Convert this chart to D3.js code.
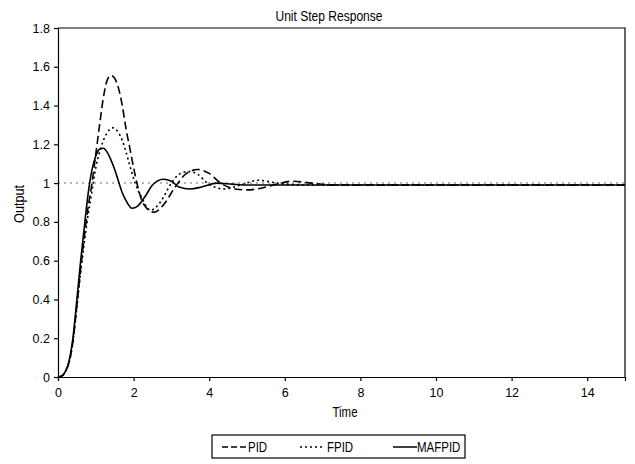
<!DOCTYPE html>
<html>
<head>
<meta charset="utf-8">
<script src="https://cdn.jsdelivr.net/npm/d3@7"></script>
<style>
  body { margin: 0; background: #fff; }
  svg { display: block; font-family: "Liberation Sans", Arial, sans-serif; }
</style>
</head>
<body>
<div id="chart"></div>
<script>
const seriesNames = ["PID", "FPID", "MAFPID"];

const pidTime = [0, 0.1, 0.2, 0.3, 0.4, 0.5, 0.6, 0.7, 0.8, 0.9, 1.0, 1.1, 1.2, 1.3, 1.4, 1.5, 1.6, 1.7, 1.8, 1.9, 2.0, 2.1, 2.2, 2.35, 2.55, 2.8, 3.1, 3.4, 3.7, 4.0, 4.3, 4.7, 5.0, 5.4, 5.8, 6.2, 6.7, 7.3, 15];
const pidOutput = [0, 0.005, 0.03, 0.08, 0.19, 0.37, 0.56, 0.73, 0.88, 1.0, 1.15, 1.3, 1.44, 1.53, 1.555, 1.54, 1.49, 1.4, 1.28, 1.18, 1.08, 0.99, 0.92, 0.87, 0.85, 0.89, 0.98, 1.05, 1.07, 1.05, 1.0, 0.97, 0.965, 0.975, 0.995, 1.01, 1.0, 0.99, 0.99];

const fpidTime = [0, 0.1, 0.2, 0.3, 0.4, 0.5, 0.6, 0.7, 0.8, 0.9, 1.0, 1.1, 1.2, 1.3, 1.45, 1.6, 1.7, 1.8, 1.9, 2.04, 2.2, 2.45, 2.7, 3.0, 3.2, 3.45, 3.7, 3.95, 4.4, 4.9, 5.3, 5.8, 6.5, 15];
const fpidOutput = [0, 0.005, 0.03, 0.08, 0.19, 0.36, 0.54, 0.7, 0.84, 0.96, 1.08, 1.16, 1.22, 1.26, 1.285, 1.26, 1.22, 1.16, 1.09, 1.0, 0.93, 0.86, 0.9, 1.0, 1.045, 1.06, 1.045, 1.0, 0.97, 0.995, 1.015, 1.0, 0.99, 0.99];

const mafTime = [0, 0.1, 0.2, 0.3, 0.4, 0.5, 0.6, 0.7, 0.8, 0.9, 1.0, 1.1, 1.2, 1.3, 1.4, 1.5, 1.6, 1.7, 1.8, 1.96, 2.1, 2.3, 2.5, 2.78, 3.0, 3.2, 3.5, 3.8, 4.2, 4.6, 5.0, 6.0, 15];
const mafOutput = [0, 0.005, 0.03, 0.09, 0.21, 0.4, 0.6, 0.78, 0.95, 1.07, 1.14, 1.175, 1.18, 1.16, 1.12, 1.07, 1.01, 0.95, 0.91, 0.87, 0.88, 0.93, 0.99, 1.02, 1.01, 0.98, 0.97, 0.98, 1.0, 0.995, 0.99, 0.99, 0.99];

const xTicks = [0, 2, 4, 6, 8, 10, 12, 14];
const yTicks = [0, 0.2, 0.4, 0.6, 0.8, 1, 1.2, 1.4, 1.6, 1.8];
const setpoint = 1;

const series = [
  { name: seriesNames[0], t: pidTime, v: pidOutput, dash: "8,4" },
  { name: seriesNames[1], t: fpidTime, v: fpidOutput, dash: "2,3" },
  { name: seriesNames[2], t: mafTime, v: mafOutput, dash: null }
].map(s => ({ ...s, points: s.t.map((t, i) => ({ t, v: s.v[i] })) }));

const W = 635, H = 464;
const plotLeft = 58, plotRight = 625, plotTop = 28, plotBottom = 377;

const x = d3.scaleLinear().domain([0, 15]).range([plotLeft, plotRight]);
const y = d3.scaleLinear().domain([0, 1.8]).range([plotBottom, plotTop]);

// the original uses a narrow face, squeeze the text horizontally
function squeeze(sel, k) {
  sel.each(function () {
    const len = this.getComputedTextLength();
    d3.select(this).attr("textLength", len * k).attr("lengthAdjust", "spacingAndGlyphs");
  });
}

const svg = d3.select("#chart").append("svg")
  .attr("width", W)
  .attr("height", H);

// frame: top and right
svg.append("path")
  .attr("d", `M${plotLeft},${plotTop}H${plotRight}V${plotBottom}`)
  .attr("fill", "none")
  .attr("stroke", "#000")
  .attr("stroke-width", 1.2);

// setpoint reference
svg.append("line")
  .attr("x1", x(0)).attr("x2", x(15))
  .attr("y1", y(setpoint)).attr("y2", y(setpoint))
  .attr("stroke", "#999")
  .attr("stroke-width", 1.5)
  .attr("stroke-dasharray", "2,4");

const yAxis = d3.axisLeft(y)
  .tickValues(yTicks)
  .tickSize(4)
  .tickPadding(4)
  .tickFormat(d => d3.format("~g")(d));

const xAxis = d3.axisBottom(x)
  .tickValues(xTicks)
  .tickSize(4)
  .tickPadding(7)
  .tickFormat(d3.format("d"));

svg.append("g")
  .attr("transform", `translate(${plotLeft},0)`)
  .call(yAxis)
  .call(g => g.selectAll("text").attr("font-size", 12.5).attr("fill", "#000").attr("font-family", null));

svg.append("g")
  .attr("transform", `translate(0,${plotBottom})`)
  .call(xAxis)
  .call(g => g.selectAll("text").attr("font-size", 12.5).attr("fill", "#000").attr("font-family", null));

svg.selectAll(".domain, .tick line").attr("stroke", "#000").attr("stroke-width", 1.2);

const line = d3.line()
  .x(d => x(d.t))
  .y(d => y(d.v))
  .curve(d3.curveMonotoneX);

svg.append("g")
  .selectAll("path")
  .data(series)
  .join("path")
  .attr("d", d => line(d.points))
  .attr("fill", "none")
  .attr("stroke", "#000")
  .attr("stroke-width", 1.6)
  .attr("stroke-dasharray", d => d.dash);

// title and axis labels
svg.append("text")
  .attr("x", 329).attr("y", 21)
  .attr("text-anchor", "middle")
  .attr("font-size", 14)
  .text("Unit Step Response")
  .call(squeeze, 0.86);

svg.append("text")
  .attr("transform", "translate(24,204) rotate(-90)")
  .attr("text-anchor", "middle")
  .attr("font-size", 14)
  .text("Output")
  .call(squeeze, 0.9);

svg.append("text")
  .attr("x", 345).attr("y", 417)
  .attr("text-anchor", "middle")
  .attr("font-size", 14)
  .text("Time")
  .call(squeeze, 0.82);

// legend
const legend = svg.append("g").attr("transform", "translate(212,435)");
legend.append("rect")
  .attr("width", 253).attr("height", 23)
  .attr("fill", "#fff")
  .attr("stroke", "#000")
  .attr("stroke-width", 1.2);

const legendPos = [
  { x1: 10, x2: 35, tx: 36 },
  { x1: 88, x2: 111, tx: 115 },
  { x1: 181, x2: 205, tx: 205 }
];

const items = legend.selectAll("g.item")
  .data(series)
  .join("g")
  .attr("class", "item");

items.append("line")
  .attr("x1", (d, i) => legendPos[i].x1)
  .attr("x2", (d, i) => legendPos[i].x2)
  .attr("y1", 12).attr("y2", 12)
  .attr("stroke", "#000")
  .attr("stroke-width", 1.5)
  .attr("stroke-dasharray", d => d.dash === "8,4" ? "6,3" : d.dash);

items.append("text")
  .attr("x", (d, i) => legendPos[i].tx)
  .attr("y", 17)
  .attr("font-size", 14)
  .text(d => d.name)
  .call(squeeze, 0.82);
</script>
</body>
</html>
